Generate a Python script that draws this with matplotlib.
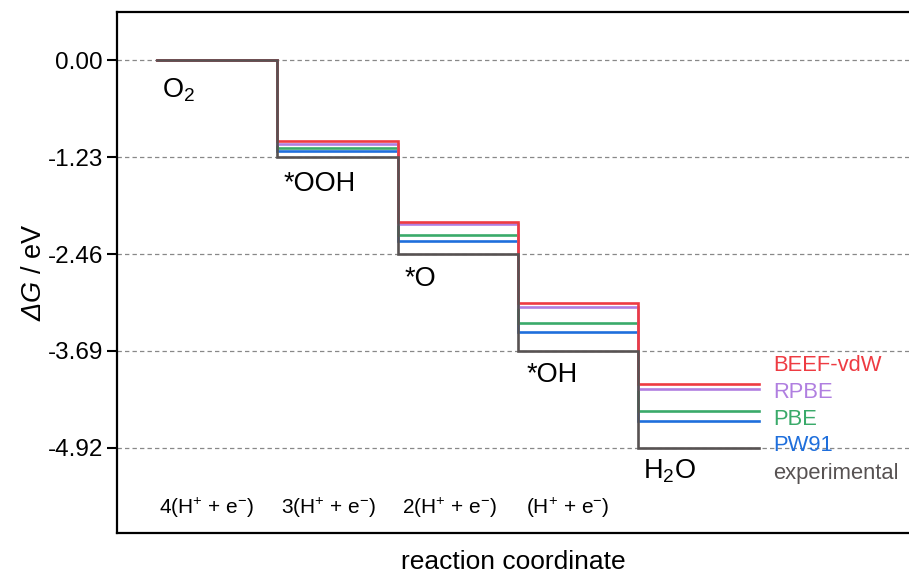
import matplotlib
matplotlib.use("Agg")
import matplotlib.pyplot as plt

plt.rcParams['font.family'] = ['Liberation Sans', 'DejaVu Sans']
plt.rcParams['mathtext.fontset'] = 'custom'
plt.rcParams['mathtext.rm'] = 'Liberation Sans'
plt.rcParams['mathtext.it'] = 'Liberation Sans:italic'
plt.rcParams['mathtext.sf'] = 'Liberation Sans:italic'
plt.rcParams['mathtext.bf'] = 'Liberation Sans:bold'

# Data
states = ['O$_2$', '*OOH', '*O', '*OH', 'H$_2$O']
steps = ['4(H$^{+}$ + e$^{-}$)', '3(H$^{+}$ + e$^{-}$)', '2(H$^{+}$ + e$^{-}$)', '(H$^{+}$ + e$^{-}$)']
yticks = [0.00, -1.23, -2.46, -3.69, -4.92]
series_names = ['PW91', 'PBE', 'RPBE', 'BEEF-vdW', 'experimental']
pw91 = [0.00, -1.153, -2.290, -3.444, -4.584]
pbe = [0.00, -1.115, -2.222, -3.337, -4.449]
rpbe = [0.00, -1.065, -2.082, -3.131, -4.174]
beef = [0.00, -1.027, -2.057, -3.084, -4.110]
experimental = [0.00, -1.23, -2.46, -3.69, -4.92]

series = [pw91, pbe, rpbe, beef, experimental]
colors = ['#1f6fdc', '#3aaa6a', '#b07fe0', '#ee3b42', '#575252']

fig = plt.figure(figsize=(9.09, 5.77), dpi=100)
ax = fig.add_axes([0.1287, 0.0763, 0.8713, 0.9027])

xs = list(range(len(states) + 1))
for i, (vals, c) in enumerate(zip(series, colors)):
    ax.plot(xs, vals + [vals[-1]], drawstyle='steps-post', color=c, lw=1.9,
            zorder=3 + i, solid_joinstyle='miter')

for t in yticks:
    ax.axhline(t, color='#888888', lw=0.9, ls=(0, (3.5, 2.5)), zorder=1)

# state labels
state_pos = [(0.04, -0.38), (0.05, -1.57), (0.06, -2.78), (0.07, -4.00), (0.04, -5.22)]
for i, (lab, (dx, y)) in enumerate(zip(states, state_pos)):
    ax.text(i + dx, y, lab, fontsize=19.5, ha='left', va='center', color='black')

# step labels
step_x = [0.41, 0.43, 0.43, 0.41]
for i, (lab, dx) in enumerate(zip(steps, step_x)):
    ax.text(i + dx, -5.68, lab, fontsize=15, ha='center', va='center', color='black')

# legend-like labels
legend_order = [3, 2, 1, 0, 4]
legend_y = [-3.87, -4.215, -4.555, -4.895, -5.25]
for k, y in zip(legend_order, legend_y):
    ax.text(5.12, y, series_names[k], fontsize=15.8, ha='left', va='center', color=colors[k])

ax.set_xlim(-0.333, 6.25)
ax.set_ylim(-6.0, 0.61)
ax.set_yticks(yticks)
ax.set_yticklabels([f'{t:.2f}' for t in yticks], fontsize=17.5)
ax.set_xticks([])
ax.tick_params(axis='y', direction='out', length=7.2, width=1.5, pad=3)
for s in ['left', 'top', 'bottom']:
    ax.spines[s].set_linewidth(1.6)
ax.spines['right'].set_visible(False)

ax.set_ylabel(r'$\mathsf{\Delta}\mathit{G}$ / eV', fontsize=19.5, labelpad=0)
ax.set_xlabel('reaction coordinate', fontsize=19, labelpad=12)

fig.savefig('out.png', dpi=100)
